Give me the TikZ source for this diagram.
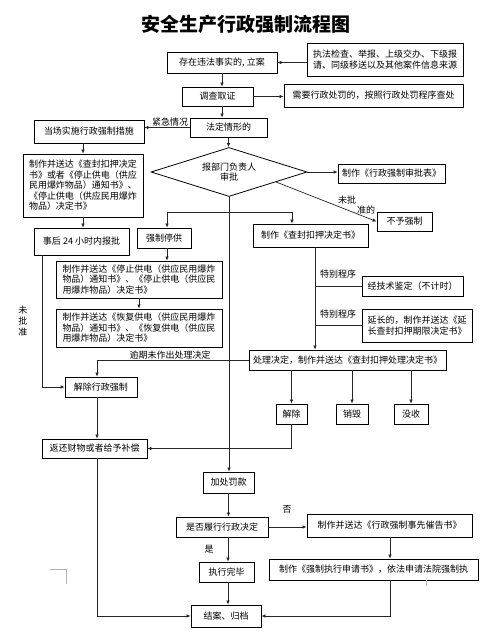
\documentclass[tikz,border=0pt]{standalone}
\usepackage{fontspec}
\setmainfont{Noto Sans CJK SC}
\usetikzlibrary{arrows.meta,shapes.geometric,calc}
\begin{document}
\begin{tikzpicture}[x=1pt,y=-1pt,
  box/.style={draw, line width=0.8pt, inner sep=2pt, align=center, font=\fontsize{9}{10.5}\selectfont},
  lbox/.style={box, align=left},
  lbl/.style={inner sep=0pt, align=center, font=\fontsize{9}{10.5}\selectfont},
  arr/.style={-{Latex[length=4pt,width=3.5pt]}, line width=0.7pt, draw=black!85},
  ln/.style={line width=0.7pt, draw=black!85}]
\useasboundingbox (0,0) rectangle (501,633);
\fill[white] (0,0) rectangle (501,633);

\node[font=\fontsize{19}{19}\selectfont\bfseries] (title) at (246,24) {安全生产行政强制流程图};

% boxes
\node[box, minimum width=110pt, minimum height=21pt] (A) at (222,62.5) {存在违法事实的, 立案};
\node[lbox, minimum width=156pt, minimum height=33pt] (B) at (385,59.5) {执法检查、举报、上级交办、下级报\\请、同级移送以及其他案件信息来源};
\node[box, minimum width=71pt, minimum height=19pt] (C) at (217.5,96.5) {调查取证};
\node[box, minimum width=179pt, minimum height=23pt] (D) at (373.5,95.5) {需要行政处罚的，按照行政处罚程序查处};
\node[box, minimum width=77pt, minimum height=19pt] (E) at (228.5,127.5) {法定情形的};
\node[box, minimum width=110pt, minimum height=23pt] (F) at (89,131.5) {当场实施行政强制措施};
\node[draw, diamond, line width=0.8pt, aspect=3.18, inner sep=0pt, minimum width=156pt, minimum height=49pt] (G) at (229,172) {};
\node[lbl] (Gt) at (229,172) {报部门负责人\\审批};
\node[box, minimum width=107pt, minimum height=19pt] (H) at (391.5,173.5) {制作《行政强制审批表》};
\node[box, minimum width=55pt, minimum height=19pt] (I) at (404.5,221.5) {不予强制};
\node[lbox, minimum width=120pt, minimum height=63pt] (J) at (83,185.5) {制作并送达《查封扣押决定\\书》或者《停止供电（供应\\民用爆炸物品）通知书》、\\《停止供电（供应民用爆炸\\物品）决定书》};
\node[box, minimum width=95pt, minimum height=27pt] (K) at (81.5,241.5) {事后 24 小时内报批};
\node[box, minimum width=54pt, minimum height=20pt] (L) at (164,238) {强制停供};
\node[lbox, minimum width=166pt, minimum height=37pt] (M) at (139,279.5) {制作并送达《停止供电（供应民用爆炸\\物品）通知书》、《停止供电（供应民\\用爆炸物品）决定书》};
\node[lbox, minimum width=166pt, minimum height=38pt] (N) at (139,328) {制作并送达《恢复供电（供应民用爆炸\\物品）通知书》、《恢复供电（供应民\\用爆炸物品）决定书》};
\node[box, minimum width=115pt, minimum height=23pt] (O) at (310.5,235.5) {制作《查封扣押决定书》};
\node[box, minimum width=101pt, minimum height=20pt] (P1) at (412.5,286) {经技术鉴定（不计时）};
\node[lbox, minimum width=110pt, minimum height=33pt] (P2) at (417,325.5) {延长的，制作并送达《延\\长查封扣押期限决定书》};
\node[box, minimum width=197pt, minimum height=20pt] (P) at (347.5,360) {处理决定，制作并送达《查封扣押处理决定书》};
\node[box, minimum width=72pt, minimum height=20pt] (Q) at (101,387) {解除行政强制};
\node[box, minimum width=31pt, minimum height=20pt, inner sep=0pt] (jc) at (291.5,414) {解除};
\node[box, minimum width=32pt, minimum height=20pt, inner sep=0pt] (xh) at (352,414) {销毁};
\node[box, minimum width=34pt, minimum height=20pt, inner sep=0pt] (ms) at (411,414) {没收};
\node[box, minimum width=105pt, minimum height=19pt] (R) at (94.5,448.5) {返还财物或者给予补偿};
\node[box, minimum width=51pt, minimum height=21pt] (S) at (228.5,482.5) {加处罚款};
\node[box, minimum width=92pt, minimum height=20pt] (T) at (222,527) {是否履行行政决定};
\node[box, minimum width=165pt, minimum height=23pt] (U) at (389.5,525.5) {制作并送达《行政强制事先催告书》};
\node[box, minimum width=209pt, minimum height=21pt] (V) at (373.5,569.5) {制作《强制执行申请书》，依法申请法院强制执};
\node[box, minimum width=55pt, minimum height=20pt] (W) at (226.5,572) {执行完毕};
\node[box, minimum width=70pt, minimum height=22pt] (X) at (226,616) {结案、归档};

% helper coordinates
\coordinate (bl) at (167,212);
\coordinate (brr) at (292,212);
\coordinate (ov) at (315,0);
\coordinate (qx) at (97,0);
\coordinate (kx) at (42,0);
\coordinate (ax) at (222,0);
\coordinate (ux) at (390,0);
\coordinate (tx) at (228,0);

% connectors
\draw[arr] (B.west |- A.east) -- (A.east);
\draw[arr] (ax |- A.south) -- (ax |- C.north);
\draw[arr] (C.east) -- (C.east -| D.west);
\draw[arr] (ax |- C.south) -- (ax |- E.north);
\draw[arr] (E.west) -- (E.west -| F.east);
\node[lbl, anchor=south] (lab1) at (170,126) {紧急情况};
\draw[arr] (E.south) -- (E.south |- G.north);
\draw[arr] (G.east) -- (G.east -| H.west);
\draw[arr] ($(G.east)!0.4!(G.south)$) -- (I.west);
\node[lbl] (lab2) at (347,200) {未批};
\node[lbl] (lab3) at (366,210) {准的};
\draw[arr] (J.north |- F.south) -- (J.north);
\draw[arr] (J.south) -- (J.south |- K.north);
\draw[arr] (kx |- K.south) |- (Q.west);
\node[lbl, font=\fontsize{9}{11}\selectfont] (lab4) at (23,321) {未\\批\\准};
\draw[arr] (G.south) -- (G.south |- S.north);
\draw[ln] (bl) -- (brr);
\draw[arr] (bl) -- (bl |- L.north);
\draw[arr] (brr) -- (brr |- O.north);
\draw[arr] (bl |- L.south) -- (bl |- M.north);
\draw[arr] (M.south) -- (N.north);
\draw[arr] (ov |- O.south) -- (ov |- P.north);
\draw[ln] (ov |- P1.west) -- (P1.west);
\draw[ln] (ov |- P2.west) -- (P2.west);
\node[lbl] (lab5) at (338,274) {特别程序};
\node[lbl] (lab6) at (338,314) {特别程序};
\draw[arr] (P.west) -- (P.west -| qx) -- (qx |- Q.north);
\node[lbl] (lab7) at (170,355) {逾期未作出处理决定};
\draw[arr] (P.south -| jc.north) -- (jc.north);
\draw[arr] (P.south -| xh.north) -- (xh.north);
\draw[arr] (P.south -| ms.north) -- (ms.north);
\draw[arr] (jc.south) |- (R.east);
\draw[arr] (qx |- Q.south) -- (qx |- R.north);
\draw[arr] (qx |- R.south) |- (X.west);
\draw[arr] (S.south) -- (S.south |- T.north);
\draw[arr] (T.east) -- (T.east -| U.west);
\node[lbl] (lab8) at (287,509) {否};
\draw[arr] (ux |- U.south) -- (ux |- V.north);
\draw[arr] (ux |- V.south) |- (X.east);
\draw[arr] (tx |- T.south) -- (tx |- W.north);
\node[lbl] (lab9) at (209,549) {是};
\draw[arr] (tx |- W.south) -- (tx |- X.north);

% page corner marks
\draw[black!30, line width=0.5pt] (50,569) -- (66,569) -- (66,584);
\draw[black!30, line width=0.5pt] (426,580) -- (426,586);
\end{tikzpicture}
\end{document}
